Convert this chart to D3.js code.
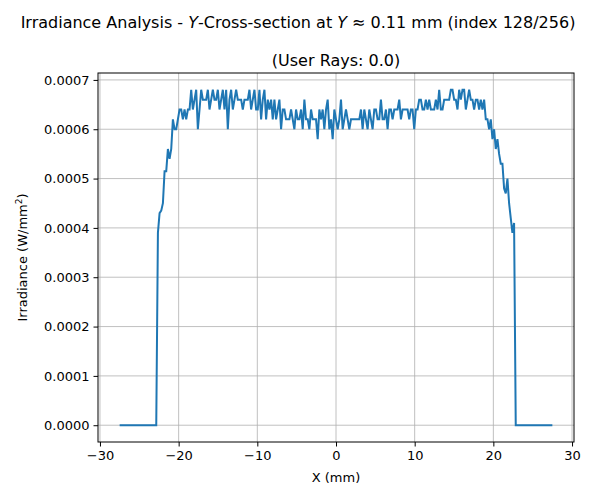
<!DOCTYPE html>
<html><head><meta charset="utf-8">
<script src="https://cdn.jsdelivr.net/npm/d3@7"></script>
<style>body{margin:0;background:#fff}text{font-family:"DejaVu Sans",sans-serif}</style>
</head><body><svg id="chart" width="597" height="495"></svg>
<script>
// irradiance in units of 1e-5 W/mm^2, 256 samples from -27.5 to 27.5 mm
const edgeLeft = [0,0,0,0,0,0,0,0,0,0,0,0,0,0,0,0,0,0,0,0,0,0,0,39,43,43.5,45,51.5,51.5,56,54,56,62,60,60,62,64,64,62,64];
const plateauLeft = [62,64,64,68,64,66,68,60,64,68,66,66,66,68,64,66,68,66,66,68,64,66,68,64,68,60,66,68,64,66,68,66,66,66,64,66,66,66,68,64,66,68,64,64,68,62,66,68,62,66,64,66,62,66,62,64,66,60,64,64,62,62,62,64,62,60];
const plateauMid = [64,62,62,64,60,66,62,62,60,64,62,62,62,58,64,62,64,60,64,66,60,62,58,64,62,60,62,66,60,62,64,62,60,62,62,62,62,62,62,64,60,64,62,60,64,62,60,64,64,62,62,66,62,62,64];
const plateauRight = [60,64,64,62,64,64,64,66,62,64,64,64,64,62,64,64,60,64,64,66,66,64,64,66,64,66,64,64,64,66,64,68,64,64,66,66,66,66,68,68,66,66,64,68,66,68,68,64,66,68,66,66,64,66,66,64,66,64,66];
const edgeRight = [62,62,60,62,58,60,56,58,55,53,53,48,47,50,45,42,39,41,0,0,0,0,0,0,0,0,0,0,0,0,0,0,0,0,0,0,0,0,0,0,0];
const yTicks = [0,0.0001,0.0002,0.0003,0.0004,0.0005,0.0006,0.0007];
const xTicks = [-30,-20,-10,0,10,20,30];

const vals = edgeLeft.concat(plateauLeft, plateauMid, plateauRight, edgeRight);
const n = vals.length;
const data = vals.map((v, i) => [-27.5 + i * 55 / (n - 1), v * 1e-5]);

const svg = d3.select("#chart");
const m = {l: 98, r: 574, t: 73, b: 442};
const x = d3.scaleLinear().domain([-30.25, 30.25]).range([m.l, m.r]);
const y = d3.scaleLinear().domain([-0.0000340, 0.000714]).range([m.b, m.t]);

const grid = svg.append("g").attr("stroke", "#b0b0b0").attr("stroke-width", 0.8);
xTicks.forEach(t => grid.append("line").attr("x1", x(t)).attr("x2", x(t)).attr("y1", m.t).attr("y2", m.b));
yTicks.forEach(t => grid.append("line").attr("y1", y(t)).attr("y2", y(t)).attr("x1", m.l).attr("x2", m.r));

svg.append("path").datum(data)
  .attr("fill", "none").attr("stroke", "#1f77b4").attr("stroke-width", 2)
  .attr("d", d3.line().x(d => x(d[0])).y(d => y(d[1])));

svg.append("rect").attr("x", m.l).attr("y", m.t).attr("width", m.r - m.l).attr("height", m.b - m.t)
  .attr("fill", "none").attr("stroke", "#000").attr("stroke-width", 1);

svg.append("g").attr("transform", `translate(0,${m.b})`)
  .call(d3.axisBottom(x).tickValues(xTicks).tickSize(4.5).tickPadding(4).tickFormat(d => d < 0 ? "\u2212" + (-d) : d))
  .call(g => g.select(".domain").remove())
  .selectAll("text").attr("font-size", 13).attr("fill", "#000");
svg.append("g").attr("transform", `translate(${m.l},0)`)
  .call(d3.axisLeft(y).tickValues(yTicks).tickSize(4.5).tickPadding(4).tickFormat(d3.format(".4f")))
  .call(g => g.select(".domain").remove())
  .selectAll("text").attr("font-size", 13).attr("fill", "#000");

svg.append("text").attr("x", (m.l + m.r) / 2).attr("y", 482).attr("text-anchor", "middle")
  .attr("font-size", 13).text("X (mm)");
const yl = svg.append("text").attr("transform", `translate(27,${(m.t + m.b) / 2}) rotate(-90)`)
  .attr("text-anchor", "middle").attr("font-size", 13);
yl.append("tspan").text("Irradiance (W/mm");
yl.append("tspan").attr("font-size", 9).attr("dy", -5).text("2");
yl.append("tspan").attr("dy", 5).text(")");

const t1 = svg.append("text").attr("x", 298).attr("y", 28).attr("text-anchor", "middle").attr("font-size", 16);
t1.append("tspan").text("Irradiance Analysis - ");
t1.append("tspan").attr("font-style", "italic").text("Y");
t1.append("tspan").text("-Cross-section at ");
t1.append("tspan").attr("font-style", "italic").text("Y");
t1.append("tspan").text(" \u2248 0.11 mm (index 128/256)");
svg.append("text").attr("x", (m.l + m.r) / 2).attr("y", 66).attr("text-anchor", "middle")
  .attr("font-size", 16).text("(User Rays: 0.0)");
</script></body></html>
